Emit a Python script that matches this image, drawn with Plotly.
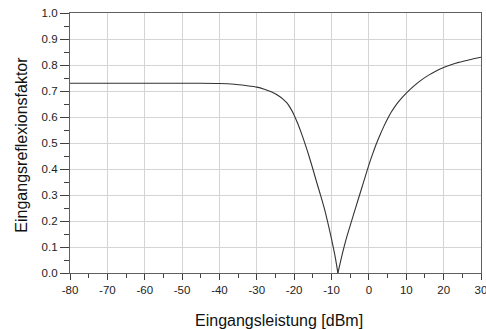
import plotly.graph_objects as go

# Input power [dBm]
power_dbm = [-80, -60, -45, -40, -36, -33, -30, -28, -26, -24, -23, -22, -21, -20, -19,
             -18, -17, -16, -15, -14, -13, -12, -11, -10, -9, -8.3,
             -7, -6, -5, -4, -3, -2, -1, 0, 1, 2, 3, 4, 5, 6, 7, 8,
             10, 12, 14, 16, 18, 20, 22, 24, 26, 28, 30]
# Input reflection factor magnitude
refl = [0.730, 0.730, 0.730, 0.729, 0.726, 0.721, 0.715, 0.707, 0.696, 0.680, 0.669, 0.655, 0.634, 0.607, 0.573,
        0.535, 0.493, 0.448, 0.400, 0.350, 0.302, 0.252, 0.194, 0.130, 0.060, 0.0,
        0.080, 0.135, 0.183, 0.230, 0.277, 0.323, 0.370, 0.416, 0.458, 0.497, 0.532, 0.564, 0.593, 0.619, 0.641, 0.660,
        0.692, 0.719, 0.742, 0.761, 0.777, 0.790, 0.801, 0.810, 0.817, 0.824, 0.830]

x_tick_vals = [-80, -70, -60, -50, -40, -30, -20, -10, 0, 10, 20, 30]
x_tick_text = ["-80", "-70", "-60", "-50", "-40", "-30", "-20", "-10", "0", "10", "20", "30"]
y_tick_vals = [0.0, 0.1, 0.2, 0.3, 0.4, 0.5, 0.6, 0.7, 0.8, 0.9, 1.0]
y_tick_text = ["0.0", "0.1", "0.2", "0.3", "0.4", "0.5", "0.6", "0.7", "0.8", "0.9", "1.0"]

x_title = "Eingangsleistung [dBm]"
y_title = "Eingangsreflexionsfaktor"

FONT = "Liberation Sans, Arial, sans-serif"

# split at the minimum so that the spline keeps the sharp notch
i_min = refl.index(min(refl))
branches = [(power_dbm[:i_min + 1], refl[:i_min + 1]), (power_dbm[i_min:], refl[i_min:])]

fig = go.Figure()
for bx, by in branches:
    fig.add_trace(go.Scatter(x=bx, y=by, mode="lines",
                             line=dict(color="#333333", width=1.1, shape="spline", smoothing=0.6),
                             showlegend=False))

axis_common = dict(
    showgrid=True, gridcolor="#d4d4d4", gridwidth=1,
    showline=True, linecolor="#606060", linewidth=1.2, mirror=True,
    ticks="outside", tickcolor="#404040", tickwidth=1,
    tickfont=dict(family=FONT, size=11.5, color="#222222"),
    zeroline=False, automargin=False,
)

fig.update_xaxes(
    range=[-80, 30], tickvals=x_tick_vals, ticktext=x_tick_text, ticklen=6,
    ticklabeloverflow="allow",
    minor=dict(dtick=5, tick0=0, ticks="outside", ticklen=4, tickcolor="#404040", showgrid=False),
    **axis_common,
)
fig.update_yaxes(
    range=[0, 1], tickvals=y_tick_vals, ticktext=y_tick_text, ticklen=9,
    minor=dict(dtick=0.05, tick0=0, ticks="outside", ticklen=5, tickcolor="#404040", showgrid=False),
    **axis_common,
)

fig.add_annotation(text=x_title, xref="paper", yref="paper", x=0.509, y=-0.182,
                   xanchor="center", yanchor="middle", showarrow=False,
                   font=dict(family=FONT, size=16, color="#111111"))
fig.add_annotation(text=y_title, xref="paper", yref="paper", x=-0.119, y=0.494,
                   xanchor="center", yanchor="middle", textangle=-90, showarrow=False,
                   font=dict(family=FONT, size=16, color="#111111"))

fig.update_layout(
    width=486, height=329,
    margin=dict(l=70, r=5, t=13, b=56, autoexpand=False),
    paper_bgcolor="white", plot_bgcolor="white",
    font=dict(family=FONT),
)

fig.write_html("out.html")
